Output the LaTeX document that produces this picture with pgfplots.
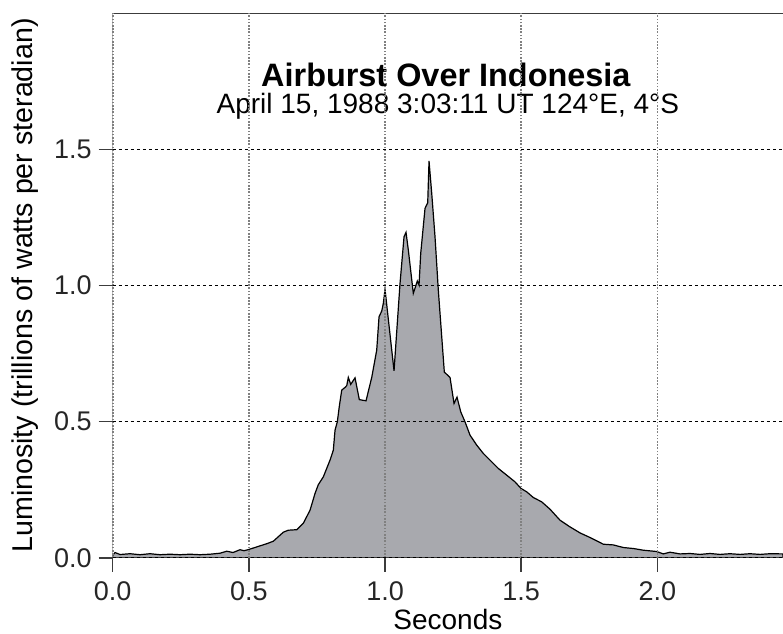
\documentclass[border=0pt]{standalone}
\usepackage{fontspec}
\setmainfont{Liberation Sans}
\usepackage{pgfplots}
\pgfplotsset{compat=1.18}
\definecolor{fillgray}{RGB}{168,169,174}
\definecolor{axgray}{RGB}{60,60,60}
\begin{document}
\begin{tikzpicture}
\begin{axis}[
  name=ax,
  scale only axis, width=335pt, height=272.35pt,
  xmin=0, xmax=2.4616, ymin=0, ymax=2,
  xtick={0,0.5,1,1.5,2}, ytick={0,0.5,1,1.5},
  xticklabels={0.0,0.5,1.0,1.5,2.0}, yticklabels={0.0,0.5,1.0,1.5},
  tick align=outside, major tick length=7pt,
  xtick pos=bottom, ytick pos=left,
  tick style={axgray, line width=0.7pt},
  axis line style={draw=none},
  grid=major,
  x grid style={gray, dash pattern=on 0.8pt off 0.8pt, line width=0.8pt},
  y grid style={black, dash pattern=on 1.5pt off 1.5pt, line width=0.45pt},
  axis on top,
  tick label style={font=\fontsize{13.5}{15}\selectfont, text=black!85},
  xticklabel style={yshift=-1.5pt},
  xlabel={Seconds},
  ylabel={Luminosity (trillions of watts per steradian)},
  xlabel style={at={(axis description cs:0.5,-0.1310)}, anchor=base, font=\fontsize{14}{16}\selectfont},
  ylabel style={at={(axis description cs:-0.1194,0.5)}, rotate=0, anchor=base, font=\fontsize{14.3}{16}\selectfont},
]
\addplot[draw=black, line width=0.6pt, fill=fillgray] coordinates {
(0.0000,0.0099) (0.0084,0.0198) (0.0268,0.0125) (0.0635,0.0154) (0.1002,0.0118)
(0.1370,0.0154) (0.1737,0.0118) (0.2104,0.0136) (0.2472,0.0118) (0.2839,0.0136)
(0.3206,0.0118) (0.3573,0.0136) (0.3941,0.0173) (0.4187,0.0246) (0.4418,0.0198)
(0.4675,0.0301) (0.4822,0.0264) (0.4994,0.0308) (0.5288,0.0404) (0.5656,0.0521)
(0.5898,0.0613) (0.6265,0.0944) (0.6449,0.1017) (0.6757,0.1036) (0.7000,0.1274)
(0.7246,0.1752) (0.7429,0.2365) (0.7550,0.2688) (0.7734,0.2975) (0.7980,0.3588)
(0.8101,0.3955) (0.8164,0.4690) (0.8248,0.4994) (0.8322,0.5571) (0.8410,0.6159)
(0.8531,0.6258) (0.8594,0.6324) (0.8652,0.6625) (0.8740,0.6368) (0.8898,0.6610)
(0.9056,0.5810) (0.9302,0.5766) (0.9512,0.6625) (0.9695,0.7628) (0.9780,0.8851)
(0.9879,0.9060) (0.9938,0.9343) (1.0000,0.9857) (1.0331,0.6867) (1.0551,1.0077)
(1.0698,1.1788) (1.0771,1.1950) (1.0856,1.1300) (1.1039,0.9710) (1.1138,1.0015)
(1.1186,1.0162) (1.1249,1.0015) (1.1311,1.1179) (1.1469,1.2831) (1.1568,1.3037)
(1.1616,1.4568) (1.1715,1.3382) (1.1836,1.1788) (1.1957,0.9831) (1.2178,0.6820)
(1.2387,0.6625) (1.2534,0.5670) (1.2644,0.5902) (1.2780,0.5362) (1.2938,0.4994)
(1.3122,0.4506) (1.3368,0.4139) (1.3610,0.3834) (1.3856,0.3588) (1.4161,0.3283)
(1.4469,0.3037) (1.4774,0.2791) (1.4995,0.2549) (1.5204,0.2424) (1.5446,0.2218)
(1.5755,0.2057) (1.6059,0.1788) (1.6427,0.1384) (1.6794,0.1138) (1.7161,0.0918)
(1.7528,0.0749) (1.8017,0.0503) (1.8384,0.0477) (1.8751,0.0382) (1.9119,0.0345)
(1.9486,0.0283) (1.9978,0.0235) (2.0220,0.0147) (2.0467,0.0209) (2.0834,0.0147)
(2.1201,0.0162) (2.1569,0.0129) (2.1936,0.0162) (2.2303,0.0129) (2.2670,0.0154)
(2.3038,0.0129) (2.3405,0.0154) (2.3772,0.0129) (2.4140,0.0154) (2.4616,0.0147)
} \closedcycle;
\draw[axgray, line width=0.7pt] (rel axis cs:0,1) -- (rel axis cs:0,0) -- (rel axis cs:1,0);
\draw[axgray, line width=0.7pt] (rel axis cs:0,1) -- (rel axis cs:1,1);
\node[anchor=base, font=\bfseries\fontsize{16.2}{18}\selectfont] at (axis description cs:0.497,0.866) {Airburst Over Indonesia};
\node[anchor=base, font=\fontsize{14}{16}\selectfont] at (axis description cs:0.5,0.8159) {April 15, 1988 3:03:11 UT 124°E, 4°S};
\end{axis}
\pgfresetboundingbox
\path[use as bounding box] ([shift={(-56.35pt,-37.65pt)}]ax.south west) rectangle ([shift={(0pt,6.5pt)}]ax.north east);
\end{tikzpicture}
\end{document}
